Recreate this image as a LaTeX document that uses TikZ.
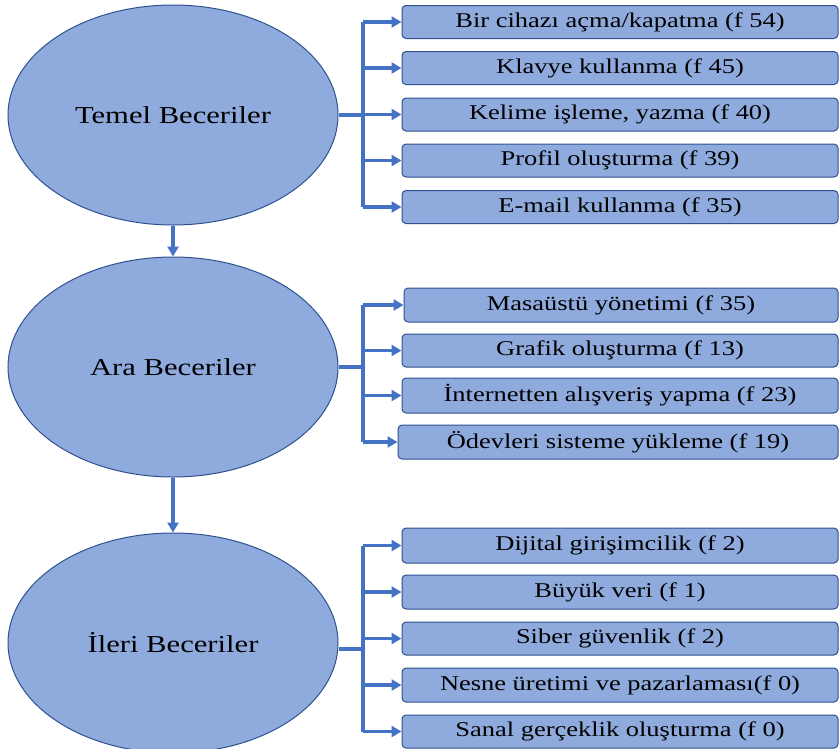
\documentclass[tikz,border=0pt]{standalone}
\usepackage{fontspec}
\setmainfont[FakeStretch=1.26]{Liberation Serif}
\usetikzlibrary{shapes.geometric,arrows.meta}
\definecolor{fillblue}{HTML}{8FAADC}
\definecolor{edgeblue}{HTML}{2F528F}
\definecolor{connblue}{HTML}{4472C4}
\tikzset{
  bubble/.style={ellipse, draw=edgeblue, line width=1pt, fill=fillblue, minimum width=330pt, minimum height=220pt, inner sep=0pt, font=\fontsize{24.3}{27}\selectfont},
  itembox/.style={rectangle, rounded corners=4pt, draw=edgeblue, line width=1pt, fill=fillblue, minimum height=33pt, inner sep=0pt, font=\fontsize{21}{24}\selectfont},
  conn/.style={draw=connblue, line width=3.6pt},
  arr/.style={draw=connblue, line width=3.6pt, -{Triangle[length=10pt,width=11pt]}}
}
\begin{document}
\begin{tikzpicture}[x=1pt,y=-1pt]
\useasboundingbox (0,0) rectangle (839,748);
\clip (0,0) rectangle (839,748);
% ellipses
\node[bubble] (e1) at (173,115) {Temel Beceriler};
\node[bubble] (e2) at (173,367) {Ara Beceriler};
\node[bubble] (e3) at (173,643) {İleri Beceriler};
% group 1 boxes
\node[itembox, minimum width=436pt] (a1) at (620,22) {Bir cihazı açma/kapatma (f 54)};
\node[itembox, minimum width=436pt] (a2) at (620,68) {Klavye kullanma (f 45)};
\node[itembox, minimum width=436pt] (a3) at (620,114.5) {Kelime işleme, yazma (f 40)};
\node[itembox, minimum width=436pt] (a4) at (620,160.5) {Profil oluşturma (f 39)};
\node[itembox, minimum width=436pt] (a5) at (620,207) {E-mail kullanma (f 35)};
% group 2 boxes
\node[itembox, minimum width=434pt, minimum height=34pt] (b1) at (621,305) {Masaüstü yönetimi (f 35)};
\node[itembox, minimum width=436pt] (b2) at (620,350.5) {Grafik oluşturma (f 13)};
\node[itembox, minimum width=436pt, minimum height=35pt] (b3) at (620,395.5) {İnternetten alışveriş yapma (f 23)};
\node[itembox, minimum width=440pt, minimum height=34pt] (b4) at (618,442) {Ödevleri sisteme yükleme (f 19)};
% group 3 boxes
\node[itembox, minimum width=436pt, minimum height=35pt] (c1) at (620,545.5) {Dijital girişimcilik (f 2)};
\node[itembox, minimum width=436pt, minimum height=34pt] (c2) at (620,592) {Büyük veri (f 1)};
\node[itembox, minimum width=436pt] (c3) at (620,638.5) {Siber güvenlik (f 2)};
\node[itembox, minimum width=436pt, minimum height=34pt] (c4) at (620,685) {Nesne üretimi ve pazarlaması(f 0)};
\node[itembox, minimum width=436pt] (c5) at (620,731.5) {Sanal gerçeklik oluşturma (f 0)};
% junction coordinates
\coordinate (j1) at (363,115);
\coordinate (j2) at (363,367);
\coordinate (j3) at (363,649);
% group 1 connectors
\draw[conn] (e1.east) -- (j1);
\draw[conn] (a1.west -| j1) -- (a5.west -| j1);
\foreach \n in {a1,a2,a3,a4,a5} \draw[arr] (\n.west -| j1) -- (\n.west);
% group 2 connectors
\draw[conn] (e2.east) -- (j2);
\draw[conn] (b1.west -| j2) -- (b4.west -| j2);
\foreach \n in {b1,b2,b3,b4} \draw[arr] (\n.west -| j2) -- (\n.west);
% group 3 connectors
\draw[conn] (j3 -| e3.east) -- (j3);
\draw[conn] (c1.west -| j3) -- (c5.west -| j3);
\foreach \n in {c1,c2,c3,c4,c5} \draw[arr] (\n.west -| j3) -- (\n.west);
% vertical arrows
\draw[arr] (e1.south) -- (e2.north);
\draw[arr] (e2.south) -- (e3.north);
\end{tikzpicture}
\end{document}
